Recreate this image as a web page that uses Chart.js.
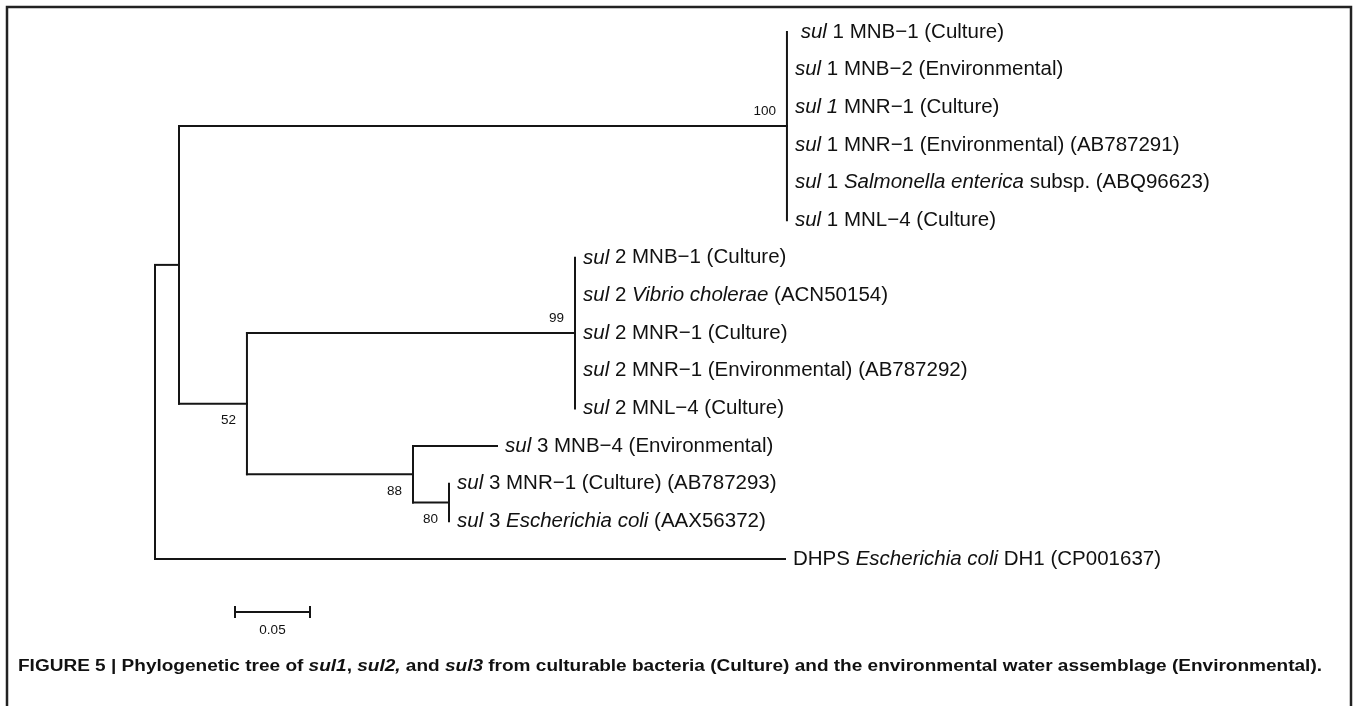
<!DOCTYPE html>
<html>
<head>
<meta charset="utf-8">
<script src="https://cdn.jsdelivr.net/npm/chart.js@4"></script>
<style>
  html, body { margin: 0; padding: 0; background: #fff; }
  canvas { display: block; }
</style>
</head>
<body>
<canvas id="treeChart" width="1356" height="706" style="width:1356px;height:706px"></canvas>
<script>
// leaves, top to bottom. *...* marks italic text
const leafLabels = [
	" *sul* 1 MNB\u22121 (Culture)",
	"*sul* 1 MNB\u22122 (Environmental)",
	"*sul 1* MNR\u22121 (Culture)",
	"*sul* 1 MNR\u22121 (Environmental) (AB787291)",
	"*sul* 1 *Salmonella enterica* subsp. (ABQ96623)",
	"*sul* 1 MNL\u22124 (Culture)",
	"*sul* 2 MNB\u22121 (Culture)",
	"*sul* 2 *Vibrio cholerae* (ACN50154)",
	"*sul* 2 MNR\u22121 (Culture)",
	"*sul* 2 MNR\u22121 (Environmental) (AB787292)",
	"*sul* 2 MNL\u22124 (Culture)",
	"*sul* 3 MNB\u22124 (Environmental)",
	"*sul* 3 MNR\u22121 (Culture) (AB787293)",
	"*sul* 3 *Escherichia coli* (AAX56372)",
	"DHPS *Escherichia coli* DH1 (CP001637)",
];
const leafParent = [
	"sul1", "sul1", "sul1", "sul1", "sul1", "sul1",
	"sul2", "sul2", "sul2", "sul2", "sul2",
	"n88", "n80", "n80", "root",
];
// distance from root (substitutions per site)
const leafDepth = [
	0.4213, 0.4213, 0.4213, 0.4213, 0.4213, 0.4213,
	0.28, 0.28, 0.28, 0.28, 0.28,
	0.228, 0.196, 0.196, 0.42,
];

// internal nodes
const nodeIds = ["root", "n1", "sul1", "n52", "sul2", "n88", "n80"];
const nodeParent = [null, "root", "n1", "n1", "n52", "n52", "n88"];
const nodeDepth = [0, 0.016, 0.4213, 0.0613, 0.28, 0.172, 0.196];
const nodeSupport = [null, null, 100, 52, 99, 88, 80];

const scaleBarLength = 0.05;
const scaleBarLabel = "0.05";
const captionText = "FIGURE 5 | Phylogenetic tree of *sul1*, *sul2,* and *sul3* from culturable bacteria (Culture) and the environmental water assemblage (Environmental).";

// ---- layout of the tree (y of internal node = middle of its children)
const kids = {};
nodeIds.forEach(function (id) { kids[id] = []; });
nodeParent.forEach(function (p, i) { if (p) kids[p].push({ node: nodeIds[i] }); });
leafParent.forEach(function (p, i) { kids[p].push({ leaf: i }); });

const depthOf = {};
nodeIds.forEach(function (id, i) { depthOf[id] = nodeDepth[i]; });
const yOf = {};
const spanOf = {};
function layout(id) {
	const ys = kids[id].map(function (k) {
		return k.node ? layout(k.node) : k.leaf;
	});
	const lo = Math.min.apply(null, ys), hi = Math.max.apply(null, ys);
	spanOf[id] = [lo, hi];
	yOf[id] = (lo + hi) / 2;
	return yOf[id];
}
layout("root");

const lineStyle = {
	showLine: true,
	borderColor: "#151515",
	borderWidth: 2,
	borderCapStyle: "square",
	pointRadius: 0,
	pointHoverRadius: 0,
	fill: false,
};
const datasets = [];
function segment(a, b) {
	datasets.push(Object.assign({ data: [a, b] }, lineStyle));
}
// vertical lines
nodeIds.forEach(function (id) {
	segment({ x: depthOf[id], y: spanOf[id][0] }, { x: depthOf[id], y: spanOf[id][1] });
});
// horizontal branches to internal nodes
nodeIds.forEach(function (id, i) {
	const p = nodeParent[i];
	if (!p) return;
	segment({ x: depthOf[p], y: yOf[id] }, { x: depthOf[id], y: yOf[id] });
});
// horizontal branches to leaves (skip zero length)
leafParent.forEach(function (p, i) {
	if (leafDepth[i] - depthOf[p] < 0.001) return;
	segment({ x: depthOf[p], y: i }, { x: leafDepth[i], y: i });
});

const FONT = '"Liberation Sans", Arial, sans-serif';
function drawRuns(ctx, text, x, y, size, weight) {
	const parts = text.split("*");
	parts.forEach(function (t, k) {
		ctx.font = (k % 2 ? "italic " : "") + weight + " " + size + "px " + FONT;
		ctx.fillText(t, x, y);
		x += ctx.measureText(t).width;
	});
	return x;
}
function runsWidth(ctx, text, size, weight) {
	let w = 0;
	text.split("*").forEach(function (t, k) {
		ctx.font = (k % 2 ? "italic " : "") + weight + " " + size + "px " + FONT;
		w += ctx.measureText(t).width;
	});
	return w;
}

const treeText = {
	id: "treeText",
	afterDatasetsDraw: function (chart) {
		const ctx = chart.ctx;
		const xs = chart.scales.x, ys = chart.scales.y;
		ctx.save();
		ctx.fillStyle = "#111";
		ctx.textBaseline = "middle";
		ctx.textAlign = "left";

		// leaf names
		leafLabels.forEach(function (lab, i) {
			drawRuns(ctx, lab, xs.getPixelForValue(leafDepth[i]) + 8, ys.getPixelForValue(i), 20.5, "normal");
		});

		// bootstrap values
		const above = { sul1: true, sul2: true };
		ctx.textAlign = "right";
		ctx.font = "13.5px " + FONT;
		nodeIds.forEach(function (id, i) {
			if (nodeSupport[i] == null) return;
			const px = xs.getPixelForValue(depthOf[id]) - 11;
			const py = ys.getPixelForValue(yOf[id]) + (above[id] ? -15 : 17);
			ctx.fillText(String(nodeSupport[i]), px, py);
		});

		// scale bar
		const barW = xs.getPixelForValue(scaleBarLength) - xs.getPixelForValue(0);
		const bx = 235, by = 612;
		ctx.strokeStyle = "#151515";
		ctx.lineWidth = 2;
		ctx.beginPath();
		ctx.moveTo(bx, by); ctx.lineTo(bx + barW, by);
		ctx.moveTo(bx, by - 6); ctx.lineTo(bx, by + 6);
		ctx.moveTo(bx + barW, by - 6); ctx.lineTo(bx + barW, by + 6);
		ctx.stroke();
		ctx.textAlign = "center";
		ctx.font = "13.5px " + FONT;
		ctx.fillText(scaleBarLabel, bx + barW / 2, 630);

		// caption
		ctx.textAlign = "left";
		const cw = runsWidth(ctx, captionText, 16, "bold");
		ctx.save();
		ctx.translate(18, 667);
		ctx.scale(1304 / cw, 1);
		drawRuns(ctx, captionText, 0, 0, 16, "bold");
		ctx.restore();

		// frame
		ctx.strokeStyle = "#222";
		ctx.lineWidth = 2.5;
		ctx.strokeRect(7, 7, 1344, 740);
		ctx.restore();
	},
};

const ctxTree = document.getElementById("treeChart").getContext("2d");
const treeChart = new Chart(ctxTree, {
	type: "scatter",
	data: { datasets: datasets },
	options: {
		responsive: false,
		animation: false,
		layout: { padding: { left: 5, right: 1, top: 0, bottom: 0 } },
		plugins: {
			legend: { display: false },
			tooltip: { enabled: false },
		},
		scales: {
			x: { type: "linear", min: -0.1, max: 0.8, display: false },
			y: { type: "linear", reverse: true, min: -0.85, max: 17.907, display: false },
		},
	},
	plugins: [treeText],
});
</script>
</body>
</html>
